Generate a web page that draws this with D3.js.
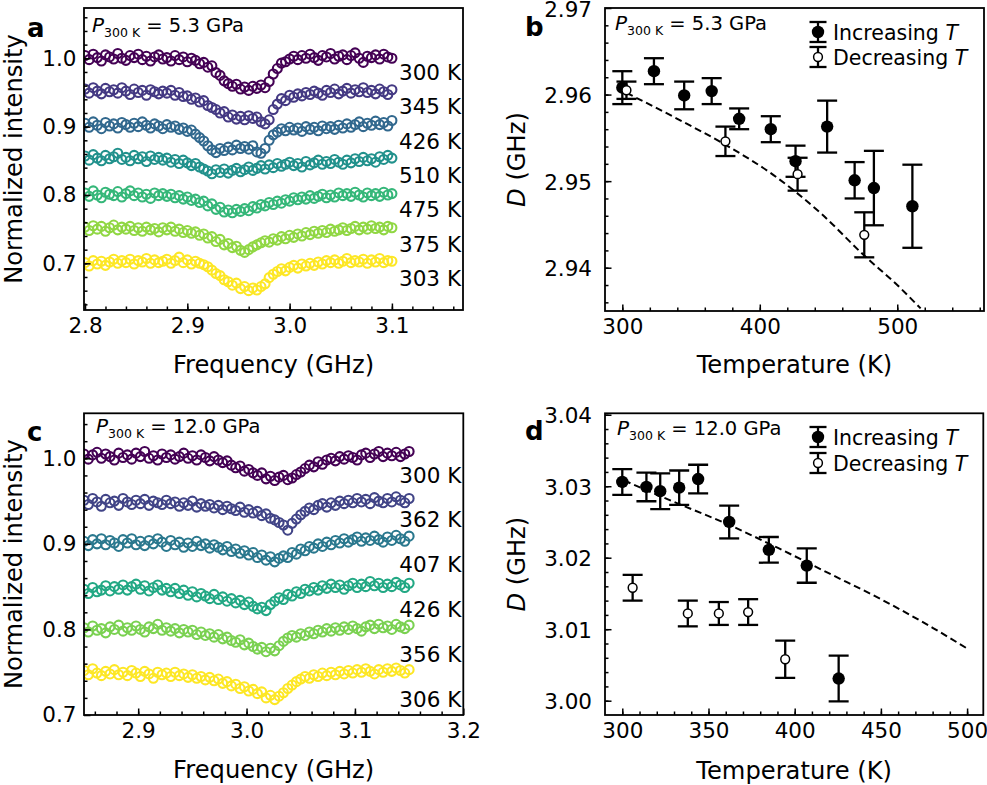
<!DOCTYPE html>
<html><head><meta charset="utf-8">
<script src="https://cdn.jsdelivr.net/npm/d3@7"></script>
<style>body{margin:0;background:#fff}svg{font-family:"DejaVu Sans",sans-serif;display:block}</style>
</head><body><svg id="fig" width="987" height="785"></svg>
<script>
// ---------------- DATA ----------------
const freqStartA = 2.8, freqStartC = 2.85, freqStep = 0.004; // sampling grid (GHz)
const labelsA = ["300 K","345 K","426 K","510 K","475 K","375 K","303 K"];
const labelsC = ["300 K","362 K","407 K","426 K","356 K","306 K"];

const specA300 = [1.004,0.998,1.006,1.001,0.996,1.005,1.002,0.999,1.007,1.000,0.997,1.004,1.001,1.006,0.998,1.003,0.996,1.002,1.005,0.999,1.001,0.996,1.004,0.998,1.002,0.995,1.000,0.997,0.992,0.994,0.987,0.989,0.979,0.975,0.967,0.963,0.959,0.962,0.955,0.958,0.953,0.959,0.956,0.961,0.957,0.966,0.977,0.985,0.993,0.995,0.999,1.003,0.998,1.004,1.000,1.006,1.001,0.997,1.004,1.002,1.007,0.999,1.003,1.005,0.998,1.004,1.008,1.000,0.994,1.003,1.001,1.005,0.999,1.006,1.002,1.000];
const specA345 = [0.955,0.949,0.957,0.952,0.948,0.956,0.951,0.954,0.949,0.957,0.952,0.947,0.955,0.950,0.953,0.946,0.954,0.951,0.948,0.952,0.949,0.953,0.946,0.950,0.944,0.945,0.940,0.942,0.936,0.938,0.931,0.928,0.925,0.920,0.922,0.914,0.917,0.911,0.915,0.910,0.916,0.912,0.914,0.907,0.904,0.910,0.925,0.933,0.941,0.938,0.946,0.943,0.948,0.945,0.950,0.947,0.952,0.949,0.946,0.953,0.950,0.955,0.948,0.952,0.956,0.949,0.954,0.951,0.957,0.950,0.953,0.948,0.955,0.951,0.947,0.954];
const specA426 = [0.905,0.899,0.907,0.902,0.897,0.906,0.901,0.904,0.898,0.906,0.903,0.899,0.905,0.900,0.907,0.902,0.898,0.904,0.901,0.897,0.903,0.899,0.901,0.896,0.898,0.893,0.895,0.889,0.884,0.879,0.872,0.866,0.862,0.868,0.865,0.870,0.866,0.873,0.868,0.871,0.867,0.872,0.863,0.861,0.868,0.880,0.888,0.892,0.897,0.894,0.899,0.895,0.898,0.893,0.900,0.896,0.899,0.894,0.901,0.897,0.900,0.896,0.902,0.898,0.904,0.899,0.903,0.907,0.900,0.905,0.902,0.908,0.903,0.906,0.901,0.909];
const specA510 = [0.857,0.851,0.859,0.854,0.850,0.858,0.853,0.856,0.861,0.852,0.855,0.850,0.858,0.853,0.856,0.849,0.857,0.852,0.855,0.851,0.854,0.848,0.852,0.846,0.851,0.847,0.843,0.846,0.841,0.838,0.835,0.831,0.837,0.833,0.838,0.832,0.836,0.839,0.834,0.837,0.841,0.836,0.839,0.843,0.838,0.844,0.840,0.846,0.842,0.845,0.848,0.843,0.846,0.841,0.849,0.844,0.847,0.851,0.845,0.849,0.846,0.852,0.848,0.845,0.851,0.847,0.853,0.849,0.855,0.850,0.853,0.848,0.856,0.852,0.858,0.854];
const specA475 = [0.803,0.798,0.806,0.800,0.796,0.804,0.801,0.799,0.805,0.797,0.802,0.806,0.799,0.803,0.797,0.801,0.795,0.803,0.799,0.802,0.798,0.801,0.796,0.799,0.794,0.797,0.792,0.794,0.789,0.791,0.784,0.787,0.779,0.782,0.775,0.778,0.774,0.779,0.776,0.780,0.777,0.783,0.781,0.786,0.784,0.789,0.786,0.791,0.788,0.793,0.791,0.796,0.793,0.797,0.794,0.799,0.795,0.798,0.801,0.796,0.800,0.797,0.803,0.799,0.802,0.798,0.804,0.800,0.797,0.803,0.799,0.802,0.798,0.804,0.800,0.802];
const specA375 = [0.753,0.748,0.755,0.750,0.754,0.747,0.752,0.756,0.749,0.753,0.750,0.754,0.748,0.752,0.747,0.753,0.749,0.751,0.746,0.752,0.749,0.753,0.747,0.750,0.745,0.748,0.744,0.746,0.741,0.743,0.737,0.739,0.732,0.735,0.727,0.729,0.723,0.725,0.719,0.716,0.720,0.724,0.727,0.730,0.733,0.731,0.736,0.734,0.739,0.736,0.741,0.738,0.743,0.740,0.745,0.742,0.747,0.744,0.748,0.745,0.750,0.747,0.749,0.752,0.748,0.751,0.754,0.749,0.753,0.750,0.755,0.751,0.753,0.749,0.754,0.752];
const specA303 = [0.701,0.696,0.704,0.699,0.703,0.697,0.702,0.706,0.700,0.704,0.701,0.706,0.699,0.704,0.702,0.707,0.700,0.705,0.701,0.703,0.706,0.700,0.704,0.709,0.701,0.705,0.699,0.703,0.700,0.698,0.695,0.690,0.685,0.682,0.676,0.673,0.668,0.671,0.663,0.666,0.660,0.664,0.661,0.666,0.670,0.679,0.684,0.688,0.692,0.689,0.694,0.697,0.693,0.699,0.696,0.700,0.697,0.702,0.699,0.704,0.701,0.705,0.700,0.703,0.707,0.701,0.704,0.702,0.706,0.700,0.705,0.702,0.707,0.701,0.704,0.703];

const specC300 = [1.005,0.999,1.004,1.007,1.000,1.005,1.002,0.998,1.006,1.001,1.004,0.999,1.006,1.002,1.008,1.000,1.003,0.998,1.005,1.001,1.004,0.999,1.002,1.006,1.000,1.003,0.998,1.004,1.001,0.997,1.002,0.998,0.995,0.997,0.992,0.989,0.991,0.985,0.987,0.983,0.980,0.983,0.976,0.979,0.974,0.978,0.980,0.975,0.977,0.981,0.984,0.988,0.992,0.990,0.996,0.993,0.998,1.000,0.997,1.002,0.999,1.003,1.001,0.998,1.004,1.006,1.001,1.005,1.008,1.002,1.006,1.003,1.007,1.002,1.005,1.008];
const specC362 = [0.951,0.946,0.953,0.949,0.944,0.952,0.948,0.950,0.945,0.953,0.949,0.946,0.951,0.947,0.952,0.945,0.950,0.948,0.946,0.951,0.947,0.949,0.944,0.948,0.945,0.950,0.943,0.947,0.944,0.946,0.942,0.945,0.940,0.944,0.941,0.939,0.943,0.937,0.940,0.936,0.938,0.933,0.935,0.930,0.928,0.925,0.922,0.916,0.924,0.929,0.934,0.938,0.942,0.940,0.945,0.947,0.943,0.948,0.945,0.950,0.947,0.951,0.948,0.953,0.949,0.952,0.947,0.954,0.950,0.948,0.953,0.949,0.955,0.951,0.948,0.953];
const specC407 = [0.903,0.898,0.905,0.900,0.906,0.899,0.904,0.901,0.897,0.905,0.901,0.906,0.899,0.903,0.898,0.904,0.900,0.906,0.902,0.897,0.904,0.899,0.902,0.896,0.901,0.897,0.903,0.898,0.900,0.895,0.899,0.896,0.893,0.897,0.891,0.894,0.889,0.892,0.887,0.890,0.884,0.887,0.881,0.885,0.879,0.883,0.886,0.884,0.890,0.888,0.894,0.892,0.897,0.895,0.900,0.897,0.902,0.899,0.904,0.901,0.906,0.902,0.905,0.908,0.903,0.907,0.904,0.909,0.905,0.902,0.908,0.904,0.910,0.906,0.903,0.909];
const specC426 = [0.847,0.842,0.849,0.844,0.846,0.851,0.845,0.850,0.847,0.852,0.846,0.850,0.853,0.847,0.851,0.845,0.849,0.852,0.846,0.848,0.844,0.848,0.842,0.846,0.840,0.844,0.838,0.842,0.839,0.836,0.841,0.835,0.838,0.833,0.836,0.831,0.834,0.829,0.832,0.827,0.824,0.826,0.822,0.829,0.833,0.837,0.835,0.841,0.839,0.844,0.842,0.847,0.845,0.849,0.846,0.851,0.848,0.853,0.849,0.852,0.847,0.851,0.854,0.849,0.853,0.850,0.856,0.851,0.854,0.849,0.853,0.850,0.855,0.852,0.849,0.854];
const specC356 = [0.802,0.797,0.804,0.799,0.801,0.796,0.803,0.800,0.805,0.798,0.802,0.799,0.804,0.800,0.797,0.803,0.801,0.806,0.799,0.802,0.798,0.801,0.796,0.800,0.797,0.799,0.794,0.797,0.793,0.795,0.791,0.794,0.789,0.791,0.787,0.785,0.788,0.782,0.784,0.780,0.777,0.779,0.774,0.778,0.775,0.781,0.786,0.790,0.793,0.791,0.795,0.793,0.797,0.795,0.799,0.797,0.801,0.798,0.802,0.799,0.803,0.800,0.804,0.801,0.798,0.803,0.805,0.801,0.806,0.802,0.804,0.800,0.806,0.803,0.801,0.805];
const specC306 = [0.752,0.747,0.754,0.749,0.746,0.751,0.748,0.753,0.747,0.750,0.746,0.752,0.749,0.745,0.751,0.748,0.743,0.750,0.747,0.749,0.745,0.750,0.746,0.748,0.744,0.747,0.743,0.745,0.741,0.744,0.740,0.742,0.737,0.739,0.734,0.736,0.731,0.733,0.728,0.730,0.725,0.727,0.720,0.723,0.718,0.722,0.726,0.731,0.735,0.739,0.742,0.745,0.743,0.747,0.745,0.749,0.746,0.750,0.747,0.751,0.748,0.752,0.749,0.753,0.750,0.754,0.751,0.748,0.753,0.750,0.754,0.751,0.755,0.752,0.749,0.753];

// panel b (P300K = 5.3 GPa)
const bIncT   = [300, 323, 345, 365, 385, 408, 426, 449, 469, 483, 511];
const bIncD   = [2.9608, 2.9627, 2.9599, 2.9604, 2.9572, 2.9560, 2.9523, 2.9563, 2.9501, 2.9492, 2.9471];
const bIncErr = [0.0019, 0.0015, 0.0016, 0.0015, 0.0012, 0.0015, 0.0018, 0.0030, 0.0021, 0.0043, 0.0048];
const bDecT   = [303, 375, 427.5, 476];
const bDecD   = [2.9605, 2.9546, 2.9508, 2.9438];
const bDecErr = [0.0010, 0.0017, 0.0019, 0.0026];
const bFitT   = [303, 340, 375, 410, 445, 476, 500, 517];
const bFitD   = [2.9602, 2.9572, 2.9542, 2.9507, 2.9462, 2.9414, 2.9380, 2.9353];

// panel d (P300K = 12.0 GPa)
const dIncT   = [300, 314, 322, 333, 344, 362, 385, 407, 425.5];
const dIncD   = [3.0306, 3.0299, 3.0293, 3.0298, 3.0310, 3.0250, 3.0211, 3.0189, 3.0031];
const dIncErr = [0.0018, 0.0020, 0.0025, 0.0024, 0.0020, 0.0023, 0.0018, 0.0024, 0.0032];
const dDecT   = [306, 338, 356, 373, 394.5];
const dDecD   = [3.0158, 3.0122, 3.0122, 3.0124, 3.0058];
const dDecErr = [0.0018, 0.0018, 0.0016, 0.0018, 0.0026];
const dFitT   = [301, 330, 360, 390, 420, 450, 480, 500];
const dFitD   = [3.0308, 3.0278, 3.0248, 3.0214, 3.0178, 3.0142, 3.0102, 3.0073];

const ticksAx = [2.8, 2.9, 3.0, 3.1], ticksAy = [0.7, 0.8, 0.9, 1.0];
const ticksCx = [2.9, 3.0, 3.1, 3.2], ticksCy = [0.7, 0.8, 0.9, 1.0];
const ticksBx = [300, 400, 500], ticksBy = [2.94, 2.95, 2.96, 2.97];
const ticksDx = [300, 350, 400, 450, 500], ticksDy = [3.00, 3.01, 3.02, 3.03, 3.04];

// ---------------- DRAWING ----------------
const svg = d3.select("#fig");
let clipId = 0;

function panel(box, xDom, yDom, xt, yt, xMinor, yMinor, xFmt, yFmt, xLabel, yLabel, yLabelItalic) {
  const x = d3.scaleLinear().domain(xDom).range([box.x0, box.x1]);
  const y = d3.scaleLinear().domain(yDom).range([box.y1, box.y0]);
  const g = svg.append("g");
  const id = "clip" + (clipId++);
  svg.append("clipPath").attr("id", id).append("rect")
    .attr("x", box.x0).attr("y", box.y0).attr("width", box.x1 - box.x0).attr("height", box.y1 - box.y0);
  const plot = g.append("g").attr("clip-path", `url(#${id})`);
  const axes = g.append("g");
  axes.append("g").attr("transform", `translate(0,${box.y1})`)
    .call(d3.axisBottom(x).tickValues(xMinor).tickFormat("").tickSize(-3.5))
    .call(s => s.select(".domain").remove());
  axes.append("g").attr("transform", `translate(${box.x0},0)`)
    .call(d3.axisLeft(y).tickValues(yMinor).tickFormat("").tickSize(-3.5))
    .call(s => s.select(".domain").remove());
  const xa = axes.append("g").attr("transform", `translate(0,${box.y1})`)
    .call(d3.axisBottom(x).tickValues(xt).tickFormat(xFmt).tickSize(-6.5).tickPadding(8));
  const ya = axes.append("g").attr("transform", `translate(${box.x0},0)`)
    .call(d3.axisLeft(y).tickValues(yt).tickFormat(yFmt).tickSize(-6.5).tickPadding(box.ypad));
  [xa, ya].forEach(a => {
    a.select(".domain").remove();
    a.selectAll("text").attr("font-size", 21.5).attr("font-family", "DejaVu Sans, sans-serif").attr("fill", "#000");
  });
  ya.selectAll("text").attr("dy", box.ydy);
  axes.selectAll(".tick line").attr("stroke", "#000").attr("stroke-width", 1.5);
  axes.append("rect").attr("x", box.x0).attr("y", box.y0)
    .attr("width", box.x1 - box.x0).attr("height", box.y1 - box.y0)
    .attr("fill", "none").attr("stroke", "#000").attr("stroke-width", 1.8);
  g.append("text").attr("x", (box.x0 + box.x1) / 2).attr("y", box.xlabY)
    .attr("text-anchor", "middle").attr("font-size", 24.2).text(xLabel);
  const yl = g.append("text").attr("transform", `translate(${box.ylabX},${(box.y0 + box.y1) / 2}) rotate(-90)`)
    .attr("text-anchor", "middle").attr("font-size", 24.2);
  if (yLabelItalic) yl.append("tspan").attr("font-style", "italic").text(yLabelItalic);
  yl.append("tspan").text(yLabel);
  return {x, y, g, plot, box};
}

function pressure(p, px, py, value) {
  const t = p.g.append("text").attr("x", px).attr("y", py).attr("font-size", 19.5);
  t.append("tspan").attr("font-style", "italic").attr("font-size", 20).text("P");
  t.append("tspan").attr("font-size", 12.5).attr("dy", 4.5).text("300 K");
  t.append("tspan").attr("dy", -4.5).text(" = " + value + " GPa");
}

function letter(txt, lx, ly) {
  svg.append("text").attr("x", lx).attr("y", ly).attr("font-size", 26).attr("font-weight", "bold").text(txt);
}

function spectra(p, list, labels, start, labTop, labStep) {
  const n = list.length;
  list.forEach((vals, k) => {
    const col = d3.interpolateViridis(k / (n - 1));
    p.plot.append("g").selectAll("circle").data(vals).join("circle")
      .attr("cx", (v, i) => p.x(start + i * freqStep))
      .attr("cy", v => p.y(v))
      .attr("r", 4.5).attr("fill", "none").attr("stroke", col).attr("stroke-width", 2.1);
  });
  const h = p.box.y1 - p.box.y0;
  labels.forEach((lab, k) => {
    p.g.append("text").attr("x", p.box.x1 - 2).attr("y", p.box.y0 + (labTop + k * labStep) * h)
      .attr("text-anchor", "end").attr("font-size", 21.5).text(lab);
  });
}

function errPoints(p, T, D, E, filled) {
  const gg = p.plot.append("g");
  const data = T.map((t, i) => ({t, d: D[i], e: E[i]}));
  data.forEach(o => {
    const xx = p.x(o.t), yt = p.y(o.d + o.e), yb = p.y(o.d - o.e);
    gg.append("line").attr("x1", xx).attr("x2", xx).attr("y1", yt).attr("y2", yb);
    gg.append("line").attr("x1", xx - 10).attr("x2", xx + 10).attr("y1", yt).attr("y2", yt);
    gg.append("line").attr("x1", xx - 10).attr("x2", xx + 10).attr("y1", yb).attr("y2", yb);
  });
  gg.selectAll("line").attr("stroke", "#000").attr("stroke-width", 2.3);
  gg.selectAll("circle").data(data).join("circle")
    .attr("cx", o => p.x(o.t)).attr("cy", o => p.y(o.d))
    .attr("r", filled ? 6.2 : 4.4)
    .attr("fill", filled ? "#000" : "#fff").attr("stroke", "#000").attr("stroke-width", filled ? 0 : 1.5);
}

function fitLine(p, T, D) {
  p.plot.append("path").datum(T.map((t, i) => [t, D[i]]))
    .attr("d", d3.line().x(d => p.x(d[0])).y(d => p.y(d[1])).curve(d3.curveMonotoneX))
    .attr("fill", "none").attr("stroke", "#000").attr("stroke-width", 2).attr("stroke-dasharray", "7,4");
}

function legend(p, lx, y1, y2) {
  const g = p.g.append("g");
  [[y1, true, "Increasing "], [y2, false, "Decreasing "]].forEach(([yy, filled, txt]) => {
    g.append("line").attr("x1", lx).attr("x2", lx).attr("y1", yy - 10).attr("y2", yy + 10);
    g.append("line").attr("x1", lx - 8.5).attr("x2", lx + 8.5).attr("y1", yy - 10).attr("y2", yy - 10);
    g.append("line").attr("x1", lx - 8.5).attr("x2", lx + 8.5).attr("y1", yy + 10).attr("y2", yy + 10);
    g.selectAll("line").attr("stroke", "#000").attr("stroke-width", 2.3);
    g.append("circle").attr("cx", lx).attr("cy", yy).attr("r", filled ? 6.2 : 4.4)
      .attr("fill", filled ? "#000" : "#fff").attr("stroke", "#000").attr("stroke-width", filled ? 0 : 1.5);
    const t = g.append("text").attr("x", lx + 15).attr("y", yy + 7.5).attr("font-size", 20.5);
    t.append("tspan").text(txt);
    t.append("tspan").attr("font-style", "italic").text("T");
  });
}

const f1 = d3.format(".1f"), f2 = d3.format(".2f"), f0 = d3.format("d");

// Panel a
const pa = panel({x0: 84, x1: 463, y0: 8, y1: 310, ypad: 7.5, ydy: "0.32em", xlabY: 373, ylabX: 21.5},
  [2.799, 3.1695], [0.6317, 1.0736], ticksAx, ticksAy,
  d3.range(2.82, 3.17, 0.02), d3.range(0.64, 1.07, 0.02), f1, f1,
  "Frequency (GHz)", "Normalized intensity", null);
spectra(pa, [specA300, specA345, specA426, specA510, specA475, specA375, specA303], labelsA, freqStartA, 0.2384, 0.1136);
pressure(pa, 92, 32, "5.3");
letter("a", 27, 37);

// Panel c
const pc = panel({x0: 84, x1: 463.3, y0: 413.3, y1: 715, ypad: 7.5, ydy: "0.32em", xlabY: 778, ylabX: 21.5},
  [2.85, 3.2], [0.7, 1.0526], ticksCx, ticksCy,
  d3.range(2.86, 3.195, 0.02), d3.range(0.72, 1.05, 0.02), f1, f1,
  "Frequency (GHz)", "Normalized intensity", null);
spectra(pc, [specC300, specC362, specC407, specC426, specC356, specC306], labelsC, freqStartC, 0.230, 0.1485);
pressure(pc, 96, 433, "12.0");
letter("c", 27, 441);

// Panel b
const pb = panel({x0: 605, x1: 984, y0: 8, y1: 311, ypad: 13, ydy: "0.38em", xlabY: 373, ylabX: 525},
  [287.4, 563.1], [2.935, 2.97], ticksBx, ticksBy,
  d3.range(300, 561, 20), d3.range(2.936, 2.9695, 0.002), f0, f2,
  "Temperature (K)", " (GHz)", "D");
fitLine(pb, bFitT, bFitD);
errPoints(pb, bIncT, bIncD, bIncErr, true);
errPoints(pb, bDecT, bDecD, bDecErr, false);
legend(pb, 818, 32, 57);
pressure(pb, 615, 30, "5.3");
letter("b", 525, 36);

// Panel d
const pd = panel({x0: 605, x1: 983.3, y0: 413.3, y1: 715, ypad: 13, ydy: "0.38em", xlabY: 779, ylabX: 525},
  [289.97, 509.4], [2.998, 3.0402], ticksDx, ticksDy,
  d3.range(300, 509, 10), d3.range(3.000, 3.0405, 0.002), f0, f2,
  "Temperature (K)", " (GHz)", "D");
fitLine(pd, dFitT, dFitD);
errPoints(pd, dIncT, dIncD, dIncErr, true);
errPoints(pd, dDecT, dDecD, dDecErr, false);
legend(pd, 818, 437, 463);
pressure(pd, 617, 435, "12.0");
letter("d", 525, 440);
</script></body></html>
